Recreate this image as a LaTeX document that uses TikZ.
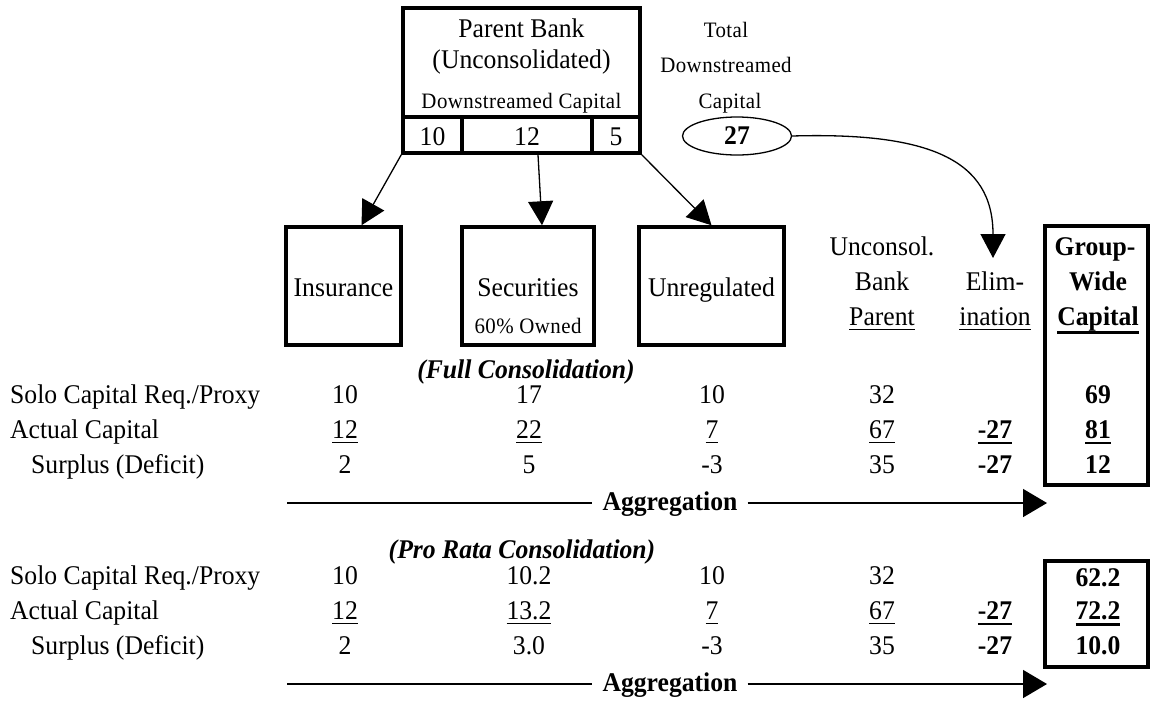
\documentclass[tikz,border=0pt]{standalone}
\usepackage{fontspec}
\setmainfont{Liberation Serif}[FakeStretch=0.95]
\newfontfamily\spacedserif{Liberation Serif}[FakeStretch=0.95,LetterSpace=2]
\usetikzlibrary{arrows.meta,shapes.geometric}
\newcommand\myul[2]{\setbox0\hbox{#2}\leavevmode\rlap{\rule[\dimexpr-3.5pt-0.5\dp0-#1\relax]{\wd0}{#1}}\box0}
\newcommand\ur[1]{\myul{1.5pt}{#1}}
\newcommand\ub[1]{\myul{2.8pt}{#1}}
\begin{document}
\begin{tikzpicture}[x=1pt,y=-1pt,
  txt/.style={font=\fontsize{27}{32}\selectfont, inner sep=0pt, anchor=base},
  btxt/.style={txt, font=\fontsize{27}{32}\selectfont\bfseries},
  bitxt/.style={txt, font=\fontsize{27}{32}\selectfont\bfseries\itshape},
  stxt/.style={txt, font=\fontsize{22}{26}\selectfont\spacedserif},
  lbl/.style={txt, anchor=base west},
  thickbox/.style={draw, line width=3.5pt, rectangle, inner sep=0pt},
  divider/.style={line width=3.2pt},
  conn/.style={line width=1.3pt, -{Triangle[length=24pt,width=25pt]}},
  aggline/.style={line width=1.5pt},
  aggarrow/.style={line width=1.5pt, -{Triangle[length=24pt,width=28pt]}},
  aggtxt/.style={btxt, inner xsep=10pt},
]
\useasboundingbox (0,0) rectangle (1150,713);
\fill[white] (0,0) rectangle (1150,713);

% Parent bank box
\node[thickbox, minimum width=237pt, minimum height=145pt] (parent) at (521.5,80.5) {};
\draw[divider] (403,117) -- (640,117);
\draw[divider] (462,117) -- (462,153);
\draw[divider] (592,117) -- (592,153);
\node[txt] (pb1) at (521.5,37) {Parent Bank};
\node[txt] (pb2) at (521.5,68) {(Unconsolidated)};
\node[stxt] (pb3) at (521.5,108) {Downstreamed Capital};
\node[txt] (cell10) at (432.5,145) {10};
\node[txt] (cell12) at (527,145) {12};
\node[txt] (cell5) at (616,145) {5};

% Total downstreamed capital
\node[stxt] (tot1) at (726,37) {Total};
\node[stxt] (tot2) at (726,72) {Downstreamed};
\node[stxt] (tot3) at (730,108) {Capital};
\node[draw, ellipse, line width=1.3pt, minimum width=109pt, minimum height=38pt, inner sep=0pt,
      font=\fontsize{27}{32}\selectfont\bfseries] (tot) at (737,136) {27};

% Subsidiary boxes
\node[thickbox, minimum width=115pt, minimum height=118pt] (ins) at (343.5,286) {};
\node[txt] (instxt) at (343.5,296) {Insurance};
\node[thickbox, minimum width=132pt, minimum height=118pt] (sec) at (528,286) {};
\node[txt] (sectxt) at (528,296) {Securities};
\node[stxt] (secown) at (528,333) {60\% Owned};
\node[thickbox, minimum width=145pt, minimum height=118pt] (unr) at (711.5,286) {};
\node[txt] (unrtxt) at (711.5,296) {Unregulated};

\draw[conn] (parent.south west) -- ([xshift=18pt]ins.north);
\draw[conn] ([xshift=16.5pt]parent.south) -- ([xshift=14pt]sec.north);
\draw[conn] (parent.south east) -- (unr.north);

% curved arrow to elimination
\coordinate (elimtip) at (993,258);
\draw[conn] (tot.east) .. controls (930,132) and (993,160) .. (elimtip);

% Column headers
\node[txt] (h4a) at (882,255) {Unconsol.};
\node[txt] (h4b) at (882,290) {Bank};
\node[txt] (h4c) at (882,325) {\ur{Parent}};
\node[txt] (h5a) at (995,290) {Elim-};
\node[txt] (h5b) at (995,325) {\ur{ination}};
\node[btxt] (h6a) at (1095,255) {Group-};
\node[btxt] (h6b) at (1098,290) {Wide};
\node[btxt] (h6c) at (1098,325) {\ub{Capital}};

% Group-wide boxes
\node[thickbox, minimum width=103pt, minimum height=259pt] (gw1) at (1096.5,355.5) {};
\node[thickbox, minimum width=103pt, minimum height=106pt] (gw2) at (1096.5,614) {};

% Table 1 (Full consolidation)
\node[bitxt] (full) at (526,378) {(Full Consolidation)};
\node[lbl] (l11) at (10,403) {Solo Capital Req./Proxy};
\node[lbl] (l12) at (10,438) {Actual Capital};
\node[lbl] (l13) at (31,473) {Surplus (Deficit)};
\node[txt] (a11) at (345,403) {10};
\node[txt] (a12) at (529,403) {17};
\node[txt] (a13) at (712,403) {10};
\node[txt] (a14) at (882,403) {32};
\node[btxt] (a16) at (1098,403) {69};
\node[txt] (a21) at (345,438) {\ur{12}};
\node[txt] (a22) at (529,438) {\ur{22}};
\node[txt] (a23) at (712,438) {\ur{7}};
\node[txt] (a24) at (882,438) {\ur{67}};
\node[btxt] (a25) at (995,438) {\ub{-27}};
\node[btxt] (a26) at (1098,438) {\ub{81}};
\node[txt] (a31) at (345,473) {2};
\node[txt] (a32) at (529,473) {5};
\node[txt] (a33) at (712,473) {-3};
\node[txt] (a34) at (882,473) {35};
\node[btxt] (a35) at (995,473) {-27};
\node[btxt] (a36) at (1098,473) {12};

\coordinate (ag1s) at (287,503);
\coordinate (ag1e) at (1047,503);
\node[aggtxt] (agg1) at (670,510) {Aggregation};
\draw[aggline] (ag1s) -- (ag1s -| agg1.west);
\draw[aggarrow] (ag1s -| agg1.east) -- (ag1e);

% Table 2 (Pro rata consolidation)
\node[bitxt] (prorata) at (522,558) {(Pro Rata Consolidation)};
\node[lbl] (l21) at (10,584) {Solo Capital Req./Proxy};
\node[lbl] (l22) at (10,619) {Actual Capital};
\node[lbl] (l23) at (31,654) {Surplus (Deficit)};
\node[txt] (b11) at (345,584) {10};
\node[txt] (b12) at (529,584) {10.2};
\node[txt] (b13) at (712,584) {10};
\node[txt] (b14) at (882,584) {32};
\node[btxt] (b16) at (1098,586) {62.2};
\node[txt] (b21) at (345,619) {\ur{12}};
\node[txt] (b22) at (529,619) {\ur{13.2}};
\node[txt] (b23) at (712,619) {\ur{7}};
\node[txt] (b24) at (882,619) {\ur{67}};
\node[btxt] (b25) at (995,619) {\ub{-27}};
\node[btxt] (b26) at (1098,619) {\ub{72.2}};
\node[txt] (b31) at (345,654) {2};
\node[txt] (b32) at (529,654) {3.0};
\node[txt] (b33) at (712,654) {-3};
\node[txt] (b34) at (882,654) {35};
\node[btxt] (b35) at (995,654) {-27};
\node[btxt] (b36) at (1098,654) {10.0};

\coordinate (ag2s) at (287,684);
\coordinate (ag2e) at (1047,684);
\node[aggtxt] (agg2) at (670,691) {Aggregation};
\draw[aggline] (ag2s) -- (ag2s -| agg2.west);
\draw[aggarrow] (ag2s -| agg2.east) -- (ag2e);
\end{tikzpicture}
\end{document}
